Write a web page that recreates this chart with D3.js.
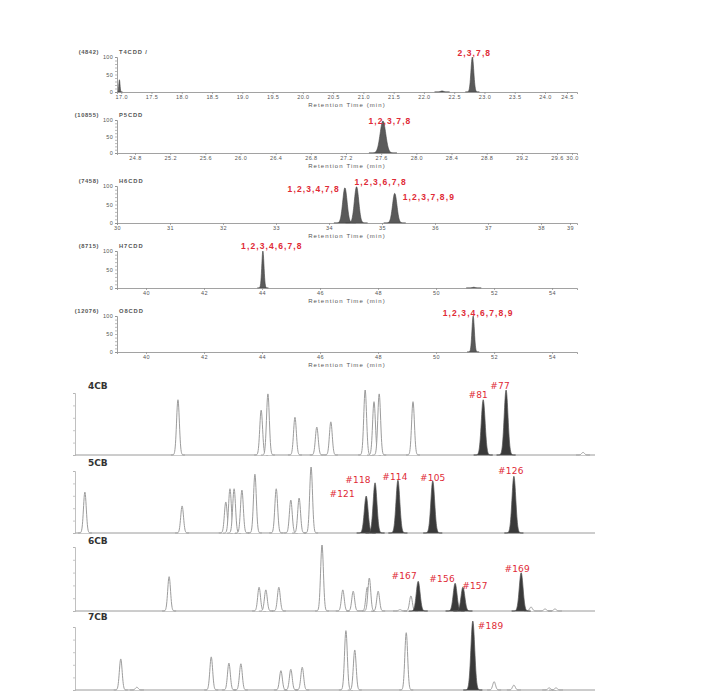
<!DOCTYPE html>
<html><head><meta charset="utf-8">
<script src="https://cdn.jsdelivr.net/npm/d3@7"></script>
<style>body{margin:0;background:#fff}svg{display:block}</style>
</head><body>
<svg id="c" width="702" height="697"></svg>
<script>
// ================= DATA =================
// --- PCDD/F panels (top) ---
const pcddNames  = ["T4CDD /", "P5CDD", "H6CDD", "H7CDD", "O8CDD"];
const pcddCounts = ["(4842)", "(10855)", "(7458)", "(8715)", "(12076)"];

const t4Ticks = [17.0,17.5,18.0,18.5,19.0,19.5,20.0,20.5,21.0,21.5,22.0,22.5,23.0,23.5,24.0,24.5];
const t4Rt    = [16.97, 22.3, 22.8];
const t4H     = [35, 3, 100];
const t4Lab   = ["", "", "2,3,7,8"];

const p5Ticks = [24.8,25.2,25.6,26.0,26.4,26.8,27.2,27.6,28.0,28.4,28.8,29.2,29.6,30.0];
const p5Rt    = [27.62];
const p5H     = [97];
const p5Lab   = ["1,2,3,7,8"];

const h6Ticks = [30,31,32,33,34,35,36,37,38,39];
const h6Rt    = [34.3, 34.52, 35.24];
const h6H     = [95, 98, 80];
const h6Lab   = ["1,2,3,4,7,8", "1,2,3,6,7,8", "1,2,3,7,8,9"];

const h7Ticks = [40,42,44,46,48,50,52,54];
const h7Rt    = [44.03, 51.3];
const h7H     = [100, 2];
const h7Lab   = ["1,2,3,4,6,7,8", ""];

const o8Ticks = [40,42,44,46,48,50,52,54];
const o8Rt    = [51.28];
const o8H     = [100];
const o8Lab   = ["1,2,3,4,6,7,8,9"];

// --- PCB panels (bottom), relative retention (0-100) and relative height (%) ---
const pcbGroups = ["4CB", "5CB", "6CB", "7CB"];

const cb4OtherPos = [19.8,35.8,37.1,42.3,46.5,49.2,55.8,57.5,58.5,65.0,97.7];
const cb4OtherH   = [85,69,94,58,43,51,100,82,94,82,4];
const cb4TargetNames = ["#81", "#77"];
const cb4TargetPos   = [78.5, 82.9];
const cb4TargetH     = [85, 100];

const cb5OtherPos = [1.9,20.6,29.0,29.8,30.6,32.1,34.6,38.7,41.5,43.1,45.4];
const cb5OtherH   = [62,41,47,67,67,65,89,67,50,53,100];
const cb5TargetNames = ["#121", "#118", "#114", "#105", "#126"];
const cb5TargetPos   = [56.0, 57.7, 62.1, 68.8, 84.4];
const cb5TargetH     = [56, 76, 80, 79, 86];

const cb6OtherPos = [18.1,35.4,36.7,39.2,47.5,51.5,53.5,56.2,56.6,58.3,62.5,64.6,87.7,90.4,92.3];
const cb6OtherH   = [52,36,32,36,100,32,30,36,50,30,2,23,6,3,3];
const cb6TargetNames = ["#167", "#156", "#157", "#169"];
const cb6TargetPos   = [66.0, 73.1, 74.6, 85.8];
const cb6TargetH     = [45, 42, 36, 58];

const cb7OtherPos = [8.8,11.9,26.2,29.6,31.9,39.6,41.5,43.7,52.1,53.8,63.7,80.6,84.4,91.2,92.5];
const cb7OtherH   = [45,4,48,39,38,28,30,33,86,58,83,12,7,3,3];
const cb7TargetNames = ["#189"];
const cb7TargetPos   = [76.5];
const cb7TargetH     = [100];

// ================= LAYOUT =================
const svg = d3.select("#c");
const RED = "#e02a36";
const FONT = "Arial, 'Liberation Sans', sans-serif";

const topPanels = [
  {name: pcddNames[0], count: pcddCounts[0], ticks: t4Ticks, fmt: ".1f", rt: t4Rt, h: t4H, lab: t4Lab,
   dom: [16.93, 24.0, 24.5, 24.66], rng: [117, 545, 567, 577], y0: 92, y100: 57, sigma: [0.6, 1.5, 1.4],
   labOff: [null, null, {dx: 2, dy: -1, anchor: "middle"}]},
  {name: pcddNames[1], count: pcddCounts[1], ticks: p5Ticks, fmt: ".1f", rt: p5Rt, h: p5H, lab: p5Lab,
   dom: [24.595, 29.6, 30.0, 30.12], rng: [117, 557, 572, 577], y0: 153, y100: 120, sigma: [2.8],
   labOff: [{dx: 7, dy: 3, anchor: "middle"}]},
  {name: pcddNames[2], count: pcddCounts[2], ticks: h6Ticks, fmt: "d", rt: h6Rt, h: h6H, lab: h6Lab,
   dom: [30, 38, 39, 39.24], rng: [117, 541, 570, 577], y0: 223, y100: 186, sigma: [2.2, 2.2, 2.2],
   labOff: [{dx: -5, dy: 4, anchor: "end"}, {dx: -2, dy: -2, anchor: "start"}, {dx: 8, dy: 7, anchor: "start"}]},
  {name: pcddNames[3], count: pcddCounts[3], ticks: h7Ticks, fmt: "d", rt: h7Rt, h: h7H, lab: h7Lab,
   dom: [39, 54.86], rng: [117, 577], y0: 288, y100: 251, sigma: [1.1, 1.5],
   labOff: [{dx: 9, dy: -2, anchor: "middle"}, null]},
  {name: pcddNames[4], count: pcddCounts[4], ticks: o8Ticks, fmt: "d", rt: o8Rt, h: o8H, lab: o8Lab,
   dom: [39, 54.86], rng: [117, 577], y0: 352, y100: 316, sigma: [1.2],
   labOff: [{dx: 5, dy: 0, anchor: "middle"}]}
];

function gaussPoints(cx, sigma, h, y) {
  const pts = [];
  for (let dx = -5 * sigma; dx <= 5 * sigma + 1e-9; dx += 0.25) {
    pts.push([cx + dx, y(h * Math.exp(-0.5 * (dx / sigma) * (dx / sigma)))]);
  }
  return pts;
}
const line = d3.line();

topPanels.forEach(p => {
  const g = svg.append("g");
  const x = d3.scaleLinear().domain(p.dom).range(p.rng);
  const y = d3.scaleLinear().domain([0, 100]).range([p.y0, p.y100]);
  const xr = [p.rng[0], p.rng[p.rng.length - 1]];

  // peaks (drawn first so axes sit on top)
  p.rt.forEach((rt, i) => {
    const cx = x(rt);
    const pts = gaussPoints(cx, p.sigma[i], p.h[i], y).filter(d => d[0] >= xr[0]);
    g.append("path").attr("d", line(pts) + "Z")
      .attr("fill", "#5a5a5a").attr("stroke", "#444").attr("stroke-width", 0.6);
    if (p.lab[i]) {
      const o = p.labOff[i];
      g.append("text").attr("x", cx + o.dx).attr("y", y(p.h[i]) + o.dy)
        .attr("text-anchor", o.anchor).attr("font-size", 8.5).attr("font-weight", "bold")
        .attr("font-family", FONT).attr("letter-spacing", 1.1).attr("fill", RED).text(p.lab[i]);
    }
  });

  // x axis
  const xa = g.append("g").attr("transform", `translate(0,${p.y0})`)
    .call(d3.axisBottom(x).tickValues(p.ticks).tickFormat(d3.format(p.fmt)).tickSize(2).tickPadding(1));
  xa.select(".domain").attr("stroke", "#8a8a8a").attr("stroke-width", 0.8);
  xa.selectAll(".tick line").attr("stroke", "#8a8a8a").attr("stroke-width", 0.7);
  xa.selectAll("text").attr("font-size", 5.5).attr("font-family", FONT).attr("fill", "#555")
    .attr("letter-spacing", 0.4);

  // y axis
  const ya = g.append("g").attr("transform", `translate(${xr[0]},0)`)
    .call(d3.axisLeft(y).tickValues([0,10,20,30,40,50,60,70,80,90,100])
      .tickFormat(d => (d % 50 === 0 ? d : "")).tickSize(2).tickPadding(2));
  ya.select(".domain").attr("stroke", "#8a8a8a").attr("stroke-width", 0.8);
  ya.selectAll(".tick line").attr("stroke", "#8a8a8a").attr("stroke-width", 0.6);
  ya.selectAll("text").attr("font-size", 5.5).attr("font-family", FONT).attr("fill", "#555")
    .attr("letter-spacing", 0.3);

  // axis title
  g.append("text").attr("x", (xr[0] + xr[1]) / 2).attr("y", p.y0 + 14.5)
    .attr("text-anchor", "middle").attr("font-size", 6).attr("font-family", FONT)
    .attr("letter-spacing", 1.1).attr("fill", "#555").text("Retention Time (min)");

  // panel title
  g.append("text").attr("x", 99).attr("y", p.y100 - 3.5).attr("text-anchor", "end")
    .attr("font-size", 5.8).attr("font-family", FONT).attr("font-weight", "bold")
    .attr("letter-spacing", 0.6).attr("fill", "#555").text(p.count);
  g.append("text").attr("x", 119).attr("y", p.y100 - 3.5)
    .attr("font-size", 5.8).attr("font-family", FONT).attr("font-weight", "bold")
    .attr("letter-spacing", 0.9).attr("fill", "#555").text(p.name);
});

// ---------- PCB panels ----------
const pcbPanels = [
  {grp: pcbGroups[0], oPos: cb4OtherPos, oH: cb4OtherH, tN: cb4TargetNames, tPos: cb4TargetPos, tH: cb4TargetH,
   y0: 455, y100: 390, top: 393,
   labOff: [{dx: -5, dy: -2, a: "middle"}, {dx: -6, dy: -1, a: "middle"}]},
  {grp: pcbGroups[1], oPos: cb5OtherPos, oH: cb5OtherH, tN: cb5TargetNames, tPos: cb5TargetPos, tH: cb5TargetH,
   y0: 533, y100: 467, top: 471,
   labOff: [{dx: -24, dy: 1, a: "middle"}, {dx: -17, dy: 0, a: "middle"}, {dx: -3, dy: 0, a: "middle"},
            {dx: 0, dy: 0, a: "middle"}, {dx: -3, dy: -2, a: "middle"}]},
  {grp: pcbGroups[2], oPos: cb6OtherPos, oH: cb6OtherH, tN: cb6TargetNames, tPos: cb6TargetPos, tH: cb6TargetH,
   y0: 611, y100: 545, top: 547,
   labOff: [{dx: -14, dy: -2, a: "middle"}, {dx: -13, dy: -1, a: "middle"}, {dx: 12, dy: 2, a: "middle"},
            {dx: -4, dy: -1, a: "middle"}]},
  {grp: pcbGroups[3], oPos: cb7OtherPos, oH: cb7OtherH, tN: cb7TargetNames, tPos: cb7TargetPos, tH: cb7TargetH,
   y0: 690, y100: 621, top: 627,
   labOff: [{dx: 5, dy: 8, a: "start"}]}
];

const xb = d3.scaleLinear().domain([0, 100]).range([75, 595]);

pcbPanels.forEach(p => {
  const g = svg.append("g");
  const y = d3.scaleLinear().domain([0, 100]).range([p.y0, p.y100]);

  // baseline
  g.append("line").attr("x1", xb(0)).attr("x2", xb(100)).attr("y1", p.y0).attr("y2", p.y0)
    .attr("stroke", "#9a9a9a").attr("stroke-width", 1);

  // left axis
  const ya = g.append("g").attr("transform", `translate(${xb(0)},0)`)
    .call(d3.axisLeft(d3.scaleLinear().domain([0, 100]).range([p.y0, p.top]))
      .tickValues([0, 20, 40, 60, 80, 100]).tickFormat("").tickSize(2));
  ya.select(".domain").attr("stroke", "#b0b0b0").attr("stroke-width", 0.8);
  ya.selectAll(".tick line").attr("stroke", "#b0b0b0").attr("stroke-width", 0.7);

  // group label
  g.append("text").attr("x", 88).attr("y", p.y100 - 1).attr("font-size", 9)
    .attr("font-weight", "bold").attr("font-family", "'DejaVu Sans', sans-serif")
    .attr("fill", "#333").text(p.grp);

  // other (non-target) peaks: hollow grey outlines
  p.oPos.forEach((pos, i) => {
    const pts = gaussPoints(xb(pos), 1.4, p.oH[i], y);
    g.append("path").attr("d", line(pts)).attr("fill", "#fff")
      .attr("stroke", "#9c9c9c").attr("stroke-width", 1);
  });

  // target peaks: filled dark
  p.tPos.forEach((pos, i) => {
    const cx = xb(pos);
    const pts = gaussPoints(cx, 1.9, p.tH[i], y);
    g.append("path").attr("d", line(pts) + "Z").attr("fill", "#3a3a3a")
      .attr("stroke", "#555").attr("stroke-width", 0.7);
    const o = p.labOff[i];
    g.append("text").attr("x", cx + o.dx).attr("y", y(p.tH[i]) + o.dy)
      .attr("text-anchor", o.a).attr("font-size", 9).attr("font-family", "'DejaVu Sans', sans-serif")
      .attr("letter-spacing", 0.2).attr("fill", RED).text(p.tN[i]);
  });
});
</script>
</body></html>
